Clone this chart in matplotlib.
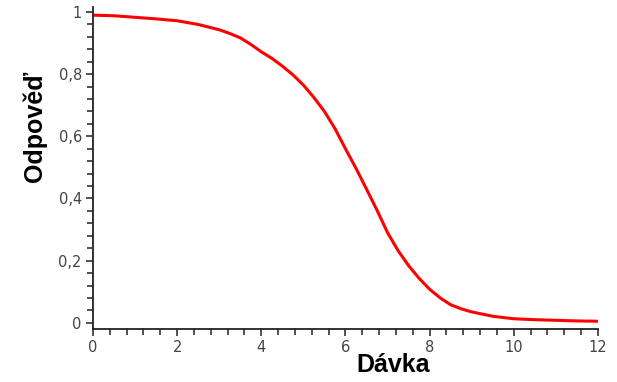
import matplotlib
matplotlib.use("Agg")
import matplotlib.pyplot as plt
from matplotlib.ticker import MultipleLocator, FuncFormatter

# values
davka = [0, 0.5, 1, 1.5, 2, 2.5, 3, 3.25, 3.5, 3.75, 4, 4.25, 4.5, 4.75, 5,
         5.25, 5.5, 5.75, 6, 6.25, 6.5, 6.75, 7, 7.25, 7.5, 7.75, 8, 8.25,
         8.5, 8.75, 9, 9.5, 10, 10.5, 11, 11.5, 12]
odpoved = [0.990, 0.988, 0.983, 0.978, 0.972, 0.960, 0.943, 0.931, 0.917, 0.896,
           0.872, 0.851, 0.826, 0.798, 0.765, 0.725, 0.680, 0.625, 0.560, 0.497,
           0.430, 0.362, 0.290, 0.232, 0.184, 0.143, 0.108, 0.080, 0.058, 0.045,
           0.035, 0.021, 0.013, 0.010, 0.008, 0.006, 0.005]

x_major = [0, 2, 4, 6, 8, 10, 12]
y_major = [0, 0.2, 0.4, 0.6, 0.8, 1]

fig = plt.figure(figsize=(6.17, 3.82), dpi=100)
ax = fig.add_axes([0.1507, 0.1387, 0.8185, 0.842])

ax.plot(davka, odpoved, color="#ff0000", linewidth=2.2, solid_capstyle="butt")

ax.set_xlim(0, 12)
ax.set_ylim(-0.02, 1.015)
ax.set_xticks(x_major)
ax.set_yticks(y_major)
ax.xaxis.set_minor_locator(MultipleLocator(0.4))
ax.yaxis.set_minor_locator(MultipleLocator(0.04))

comma = FuncFormatter(lambda v, p: ("%g" % v).replace(".", ","))
ax.yaxis.set_major_formatter(comma)

for side in ("top", "right"):
    ax.spines[side].set_visible(False)
for side in ("left", "bottom"):
    ax.spines[side].set_linewidth(1.3)
    ax.spines[side].set_color("#222222")

ax.tick_params(which="major", direction="out", length=5, width=1.1, color="#222222",
               labelsize=10.5, labelcolor="#444444", pad=3)
ax.tick_params(which="minor", direction="out", length=4, width=1.1, color="#222222")

ax.set_xlabel("Dávka", fontsize=18, fontweight="bold", family="Liberation Sans")
ax.set_ylabel("Odpověď", fontsize=18, fontweight="bold", family="Liberation Sans")
ax.xaxis.set_label_coords(0.594, -0.075)
ax.yaxis.set_label_coords(-0.092, 0.631)

fig.savefig("out.png", dpi=100, facecolor="white")
